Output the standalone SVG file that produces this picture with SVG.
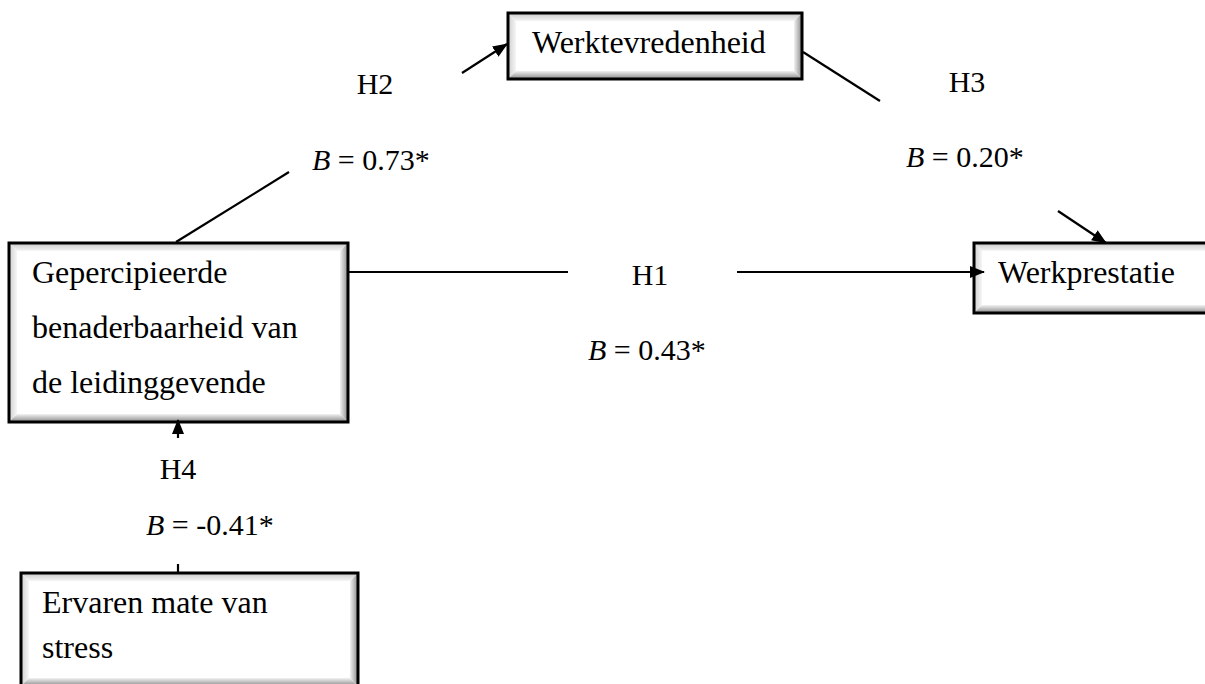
<svg xmlns="http://www.w3.org/2000/svg" width="1205" height="684" viewBox="0 0 1205 684">
<style>
text{font-family:"Liberation Serif","Times New Roman","DejaVu Serif",serif;fill:#000}
.bt{font-size:32px}
.lb{font-size:30px}
.frame{fill:none;stroke:#000;stroke-width:3}
.conn{stroke:#000;stroke-width:2.2;fill:none}
</style>
<defs>
<linearGradient id="gT" x1="0" y1="0" x2="0" y2="1"><stop offset="0" stop-color="#c8c8c8"/><stop offset="1" stop-color="#f6f6f6"/></linearGradient>
<linearGradient id="gL" x1="0" y1="0" x2="1" y2="0"><stop offset="0" stop-color="#cfcfcf"/><stop offset="1" stop-color="#f6f6f6"/></linearGradient>
<linearGradient id="gR" x1="0" y1="0" x2="1" y2="0"><stop offset="0" stop-color="#f2f2f2"/><stop offset="1" stop-color="#8a8a8a"/></linearGradient>
<linearGradient id="gB" x1="0" y1="0" x2="0" y2="1"><stop offset="0" stop-color="#f2f2f2"/><stop offset="1" stop-color="#8a8a8a"/></linearGradient>
<marker id="ah" markerUnits="userSpaceOnUse" markerWidth="16" markerHeight="14" refX="14" refY="6" orient="auto"><path d="M0,0 L15,6 L0,12 Z" fill="#000"/></marker>
</defs>

<g id="node-werktevredenheid">
<rect x="508" y="13" width="294" height="66" fill="#fff"/>
<polygon points="508,13 802,13 794,21 516,21" fill="url(#gT)"/>
<polygon points="508,13 516,21 516,71 508,79" fill="url(#gL)"/>
<polygon points="802,13 802,79 794,71 794,21" fill="url(#gR)"/>
<polygon points="508,79 802,79 794,71 516,71" fill="url(#gB)"/>
<rect class="frame" x="508" y="13" width="294" height="66"/>
<text class="bt" x="532" y="53">Werktevredenheid</text>
</g>

<g id="node-benaderbaarheid">
<rect x="9" y="243" width="339" height="179" fill="#fff"/>
<polygon points="9,243 348,243 340,251 17,251" fill="url(#gT)"/>
<polygon points="9,243 17,251 17,414 9,422" fill="url(#gL)"/>
<polygon points="348,243 348,422 340,414 340,251" fill="url(#gR)"/>
<polygon points="9,422 348,422 340,414 17,414" fill="url(#gB)"/>
<rect class="frame" x="9" y="243" width="339" height="179"/>
<text class="bt" x="32" y="283">Gepercipieerde</text>
<text class="bt" x="32" y="338">benaderbaarheid van</text>
<text class="bt" x="32" y="393">de leidinggevende</text>
</g>

<g id="node-werkprestatie">
<rect x="974" y="243" width="245" height="70" fill="#fff"/>
<polygon points="974,243 1219,243 1211,251 982,251" fill="url(#gT)"/>
<polygon points="974,243 982,251 982,305 974,313" fill="url(#gL)"/>
<polygon points="974,313 1219,313 1211,305 982,305" fill="url(#gB)"/>
<rect class="frame" x="974" y="243" width="245" height="70"/>
<text class="bt" x="998" y="283">Werkprestatie</text>
</g>

<g id="node-stress">
<rect x="21" y="573" width="337" height="113" fill="#fff"/>
<polygon points="21,573 358,573 350,581 29,581" fill="url(#gT)"/>
<polygon points="21,573 29,581 29,678 21,686" fill="url(#gL)"/>
<polygon points="358,573 358,686 350,678 350,581" fill="url(#gR)"/>
<polygon points="21,686 358,686 350,678 29,678" fill="url(#gB)"/>
<rect class="frame" x="21" y="573" width="337" height="113"/>
<text class="bt" x="42" y="613">Ervaren mate van</text>
<text class="bt" x="42" y="658">stress</text>
</g>

<g id="connectors">
<line class="conn" x1="176" y1="242" x2="289" y2="172"/>
<line class="conn" x1="462" y1="73" x2="507" y2="44" marker-end="url(#ah)"/>
<line class="conn" x1="803" y1="52" x2="880" y2="101"/>
<line class="conn" x1="1058" y1="211" x2="1106" y2="243" marker-end="url(#ah)"/>
<line class="conn" x1="348" y1="272" x2="568" y2="272"/>
<line class="conn" x1="737" y1="272" x2="984" y2="272" marker-end="url(#ah)"/>
<line class="conn" x1="178" y1="438" x2="178" y2="420" marker-end="url(#ah)"/>
<line class="conn" x1="178" y1="564" x2="178" y2="573"/>
</g>

<g id="labels">
<text class="lb" x="375" y="94" text-anchor="middle">H2</text>
<text class="lb" x="312" y="170"><tspan font-style="italic">B</tspan> = 0.73*</text>
<text class="lb" x="967" y="92" text-anchor="middle">H3</text>
<text class="lb" x="906" y="167"><tspan font-style="italic">B</tspan> = 0.20*</text>
<text class="lb" x="650" y="285" text-anchor="middle">H1</text>
<text class="lb" x="588" y="360"><tspan font-style="italic">B</tspan> = 0.43*</text>
<text class="lb" x="178" y="479" text-anchor="middle">H4</text>
<text class="lb" x="146" y="535"><tspan font-style="italic">B</tspan> = -0.41*</text>
</g>
</svg>
